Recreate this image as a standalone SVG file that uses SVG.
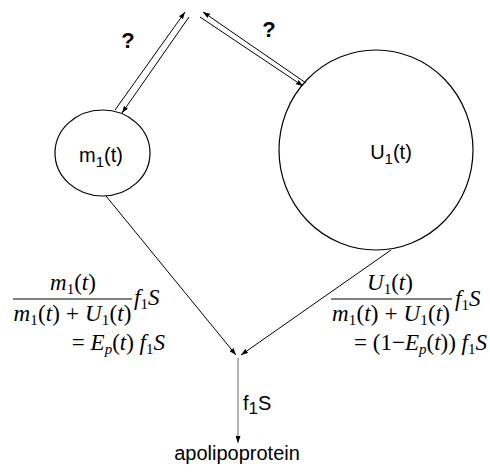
<svg xmlns="http://www.w3.org/2000/svg" width="490" height="476" viewBox="0 0 490 476">
<style>
.node{fill:none;stroke:#000;stroke-width:1.2}
.lbl{font-family:"Liberation Sans",Arial,sans-serif;font-size:20px;fill:#000}
.q{font-family:"Liberation Sans",Arial,sans-serif;font-size:22px;font-weight:bold;fill:#000}
.math{font-family:"Liberation Serif","Times New Roman",serif;font-size:23px;fill:#000}
.it{font-style:italic}
.edge{fill:none;stroke:#000;stroke-width:1}
.gray{fill:none;stroke:#999;stroke-width:1.5}
</style>
<defs>
<marker id="ah" markerUnits="userSpaceOnUse" markerWidth="7" markerHeight="5" refX="7" refY="2.5" orient="auto">
<path d="M0,0 L7,2.5 L0,5 z" fill="#000"/>
</marker>
</defs>
<g id="m1">
<ellipse class="node" cx="102.5" cy="153" rx="47.5" ry="43"/>
<text class="lbl" x="101" y="162" text-anchor="middle">m<tspan font-size="15" dy="5">1</tspan><tspan dy="-5">(t)</tspan></text>
</g>
<g id="U1">
<ellipse class="node" cx="376" cy="150" rx="97" ry="100"/>
<text class="lbl" x="391" y="159" text-anchor="middle">U<tspan font-size="15" dy="5">1</tspan><tspan dy="-5">(t)</tspan></text>
</g>
<g id="connectors">
<line class="edge" x1="115" y1="110" x2="185" y2="12" marker-end="url(#ah)"/>
<line class="edge" x1="189" y1="17" x2="122" y2="113" marker-end="url(#ah)"/>
<line class="edge" x1="306" y1="83" x2="203" y2="12" marker-end="url(#ah)"/>
<line class="edge" x1="200" y1="17" x2="303" y2="86" marker-end="url(#ah)"/>
<line class="edge" x1="106" y1="196" x2="236" y2="355" marker-end="url(#ah)"/>
<line class="edge" x1="391" y1="250" x2="241" y2="355" marker-end="url(#ah)"/>
<line class="gray" x1="238" y1="358" x2="238" y2="443" marker-end="url(#ah)"/>
</g>
<g id="labels">
<text class="q" x="128" y="48" text-anchor="middle">?</text>
<text class="q" x="269" y="37" text-anchor="middle">?</text>
<text class="lbl" x="243" y="410" font-size="21">f<tspan font-size="17" dy="4">1</tspan><tspan dy="-4">S</tspan></text>
<text class="lbl" x="237" y="460" font-size="22" text-anchor="middle">apolipoprotein</text>
</g>
<g id="formula-left">
<text class="math" x="73" y="290" text-anchor="middle"><tspan class="it">m</tspan><tspan font-size="15" dy="4">1</tspan><tspan dy="-4">(</tspan><tspan class="it">t</tspan>)</text>
<line x1="13" y1="299" x2="132" y2="299" stroke="#000" stroke-width="1.2"/>
<text class="math" x="72.5" y="321" text-anchor="middle" textLength="118" lengthAdjust="spacing"><tspan class="it">m</tspan><tspan font-size="15" dy="4">1</tspan><tspan dy="-4">(</tspan><tspan class="it">t</tspan>) + <tspan class="it">U</tspan><tspan font-size="15" dy="4">1</tspan><tspan dy="-4">(</tspan><tspan class="it">t</tspan>)</text>
<text class="math" x="134" y="305"><tspan class="it">f</tspan><tspan font-size="15" dy="4">1</tspan><tspan class="it" dy="-4">S</tspan></text>
<text class="math" x="165" y="350" text-anchor="end">= <tspan class="it">E</tspan><tspan class="it" font-size="15" dy="4">p</tspan><tspan dy="-4">(</tspan><tspan class="it">t</tspan>) <tspan class="it">f</tspan><tspan font-size="15" dy="4">1</tspan><tspan class="it" dy="-4">S</tspan></text>
</g>
<g id="formula-right">
<text class="math" x="390" y="290" text-anchor="middle"><tspan class="it">U</tspan><tspan font-size="15" dy="4">1</tspan><tspan dy="-4">(</tspan><tspan class="it">t</tspan>)</text>
<line x1="331" y1="299" x2="452" y2="299" stroke="#000" stroke-width="1.2"/>
<text class="math" x="391" y="321" text-anchor="middle" textLength="118" lengthAdjust="spacing"><tspan class="it">m</tspan><tspan font-size="15" dy="4">1</tspan><tspan dy="-4">(</tspan><tspan class="it">t</tspan>) + <tspan class="it">U</tspan><tspan font-size="15" dy="4">1</tspan><tspan dy="-4">(</tspan><tspan class="it">t</tspan>)</text>
<text class="math" x="455" y="306"><tspan class="it">f</tspan><tspan font-size="15" dy="4">1</tspan><tspan class="it" dy="-4">S</tspan></text>
<text class="math" x="487" y="350" text-anchor="end">= (1−<tspan class="it">E</tspan><tspan class="it" font-size="15" dy="4">p</tspan><tspan dy="-4">(</tspan><tspan class="it">t</tspan>)) <tspan class="it">f</tspan><tspan font-size="15" dy="4">1</tspan><tspan class="it" dy="-4">S</tspan></text>
</g>
</svg>
